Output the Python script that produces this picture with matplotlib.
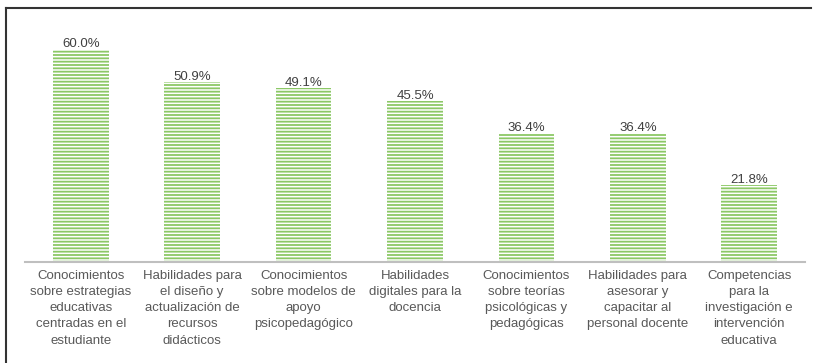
import matplotlib
matplotlib.use("Agg")
import matplotlib.pyplot as plt
from matplotlib.lines import Line2D

# Datos del gráfico
categorias = [
    "Conocimientos\nsobre estrategias\neducativas\ncentradas en el\nestudiante",
    "Habilidades para\nel diseño y\nactualización de\nrecursos\ndidácticos",
    "Conocimientos\nsobre modelos de\napoyo\npsicopedagógico",
    "Habilidades\ndigitales para la\ndocencia",
    "Conocimientos\nsobre teorías\npsicológicas y\npedagógicas",
    "Habilidades para\nasesorar y\ncapacitar al\npersonal docente",
    "Competencias\npara la\ninvestigación e\nintervención\neducativa",
]
porcentajes = [60.0, 50.9, 49.1, 45.5, 36.4, 36.4, 21.8]

plt.rcParams["font.family"] = ["Liberation Sans", "DejaVu Sans"]
plt.rcParams["hatch.linewidth"] = 1.3

fig = plt.figure(figsize=(8.13, 3.63), dpi=100)
ax = fig.add_axes([25 / 813, 101 / 363, 780 / 813, 237 / 363])

x = range(len(categorias))
barras = ax.bar(x, porcentajes, width=0.5, color="white",
                edgecolor="#8cc866", linewidth=0, hatch="-----")

for b, v in zip(barras, porcentajes):
    ax.text(b.get_x() + b.get_width() / 2, v - 0.2, f"{v:.1f}%",
            ha="center", va="bottom", fontsize=9.5, color="#404040")

ax.set_xlim(-0.5, len(categorias) - 0.5)
ax.set_ylim(0, 67)
ax.set_yticks([])
ax.set_xticks(list(x))
ax.set_xticklabels(categorias, fontsize=9.5, color="#595959", linespacing=1.45)
ax.tick_params(axis="x", length=0, pad=6)
for lado in ["top", "right", "left"]:
    ax.spines[lado].set_visible(False)
ax.spines["bottom"].set_color("#bfbfbf")
ax.spines["bottom"].set_linewidth(1.5)

# Marco superior e izquierdo
fig.add_artist(Line2D([6 / 813, 811 / 813], [1 - 8 / 363, 1 - 8 / 363], color="#333333", lw=1.5))
fig.add_artist(Line2D([6 / 813, 6 / 813], [0, 1 - 8 / 363], color="#333333", lw=1.5))

fig.savefig("out.png", dpi=100)
